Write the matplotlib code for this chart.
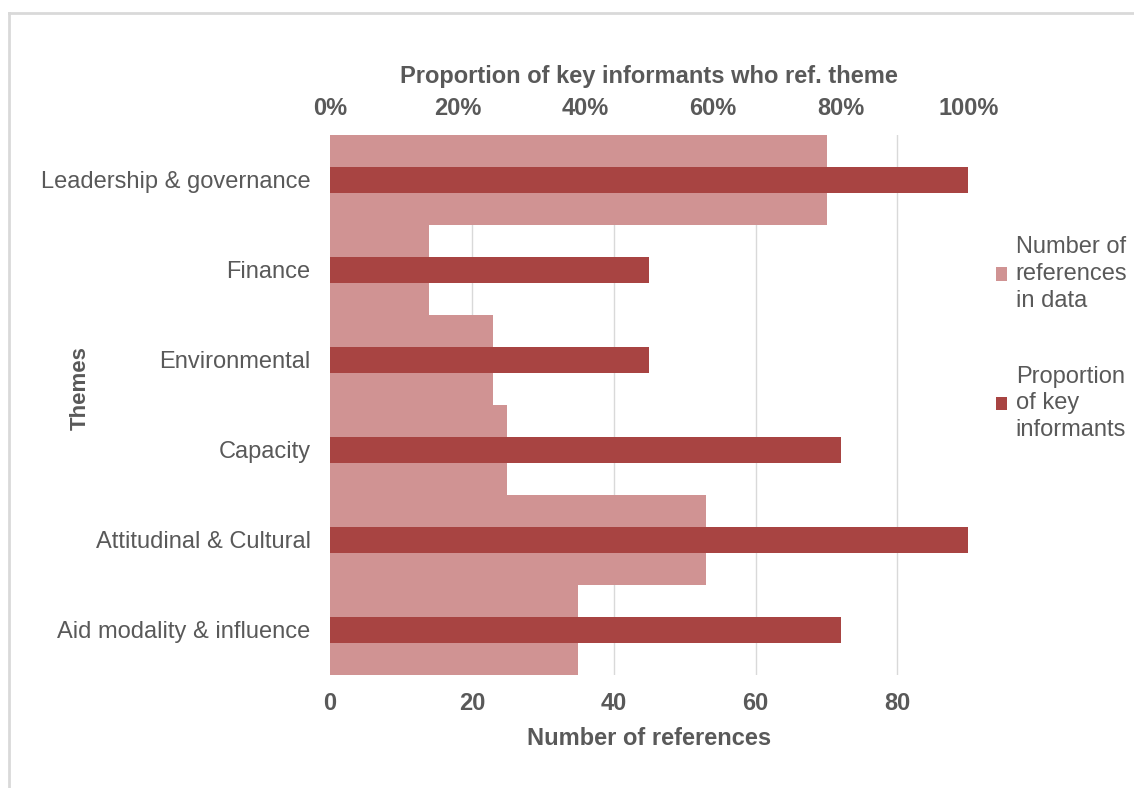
import matplotlib
matplotlib.use("Agg")
import matplotlib.pyplot as plt
from matplotlib.lines import Line2D

# data
themes = ["Leadership & governance", "Finance", "Environmental",
          "Capacity", "Attitudinal & Cultural", "Aid modality & influence"]
num_refs = [70, 14, 23, 25, 53, 35]
prop_informants = [100, 50, 50, 80, 100, 80]
bottom_ticks = [0, 20, 40, 60, 80]
top_ticks = [0, 20, 40, 60, 80, 100]

light = "#D09393"
dark = "#A84442"
grey = "#595959"

plt.rcParams['font.family'] = ['Liberation Sans', 'DejaVu Sans']

fig = plt.figure(figsize=(11.34, 7.88), dpi=100)
ax = fig.add_axes([0.291, 0.1434, 0.563, 0.6853])

ypos = list(range(len(themes)))
ax.barh(ypos, num_refs, height=1.0, color=light, zorder=2,
        label="Number of\nreferences\nin data")
ax.set_xlim(0, 90)
ax.set_ylim(len(themes) - 0.5, -0.5)
ax.set_yticks(ypos)
ax.set_yticklabels(themes, fontsize=17, color=grey)
ax.set_xticks(bottom_ticks)
ax.set_xticklabels([str(t) for t in bottom_ticks], fontsize=17,
                   fontweight='bold', color=grey)
ax.tick_params(axis='x', length=0, pad=12)
ax.tick_params(axis='y', length=0, pad=14)
ax.grid(axis='x', color='#D9D9D9', linewidth=1, zorder=0)
ax.set_axisbelow(True)
for s in ax.spines.values():
    s.set_visible(False)
ax.set_xlabel("Number of references", fontsize=17, fontweight='bold',
              color=grey, labelpad=9)

fig.text(80 / 1134, 1 - 388 / 788, "Themes", rotation=90, fontsize=16,
         fontweight='bold', color=grey, ha='center', va='center')

ax2 = ax.twiny()
ax2.barh(ypos, prop_informants, height=0.28, color=dark, zorder=3,
         label="Proportion\nof key\ninformants")
ax2.set_xlim(0, 100)
ax2.set_xticks(top_ticks)
ax2.set_xticklabels([f"{t}%" for t in top_ticks], fontsize=17,
                    fontweight='bold', color=grey)
ax2.tick_params(length=0, pad=11)
for s in ax2.spines.values():
    s.set_visible(False)
ax2.set_xlabel("Proportion of key informants who ref. theme", fontsize=17,
               fontweight='bold', color=grey, labelpad=10)

h1, l1 = ax.get_legend_handles_labels()
h2, l2 = ax2.get_legend_handles_labels()
leg = fig.legend(h1 + h2, l1 + l2, loc='upper left', bbox_to_anchor=(0.878, 0.700),
                 frameon=False, fontsize=17, handlelength=0.5, handleheight=0.5,
                 handletextpad=0.35, labelspacing=2.3, labelcolor=grey,
                 borderpad=0, borderaxespad=0)
for t in leg.get_texts():
    t.set_linespacing(1.27)

# outer chart border (only top and left visible in the crop)
fig.add_artist(Line2D([0.008, 1.0], [0.983, 0.983], color='#D9D9D9', linewidth=2))
fig.add_artist(Line2D([0.008, 0.008], [0.0, 0.983], color='#D9D9D9', linewidth=2))

fig.savefig("out.png", dpi=100)
